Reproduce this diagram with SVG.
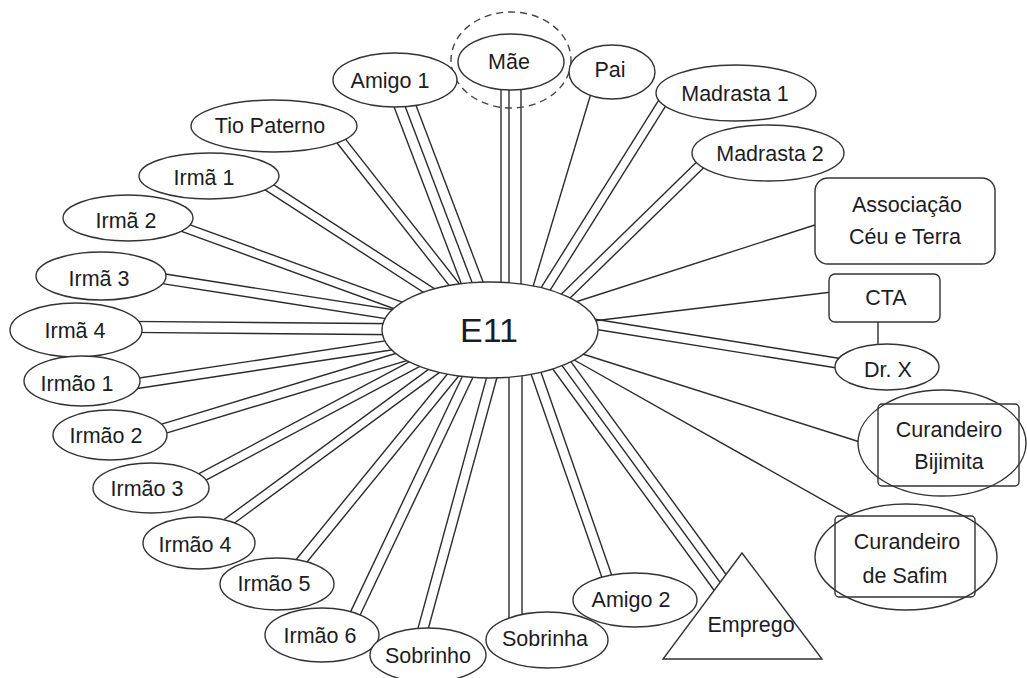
<svg xmlns="http://www.w3.org/2000/svg" width="1027" height="678" viewBox="0 0 1027 678">
<style>
.c line{stroke:#2b2b2b;stroke-width:1.4;fill:none}
.n ellipse,.n rect,.n polygon{fill:#fff;stroke:#333;stroke-width:1.4}
.dash{fill:none !important;stroke:#444 !important;stroke-width:1.5;stroke-dasharray:7 5}
text{font-family:"Liberation Sans",Arial,sans-serif;font-size:21.5px;fill:#1c1c24;text-anchor:middle}
.big{font-size:34px}
</style>
<rect width="1027" height="678" fill="#fff"/>
<g id="connectors" class="c">
  <!-- Mãe triple -->
  <line x1="501" y1="80" x2="501" y2="300"/><line x1="509" y1="80" x2="509" y2="300"/><line x1="521" y1="80" x2="521" y2="300"/>
  <!-- Amigo 1 triple -->
  <g transform="translate(405,106) rotate(69.2)"><line x1="-15" y1="-10.5" x2="240" y2="-10.5"/><line x1="-15" y1="0" x2="240" y2="0"/><line x1="-15" y1="10.5" x2="240" y2="10.5"/></g>
  <!-- Tio Paterno -->
  <g transform="translate(342,142) rotate(51.8)"><line x1="-15" y1="-4.5" x2="239" y2="-4.5"/><line x1="-15" y1="4.5" x2="239" y2="4.5"/></g>
  <g transform="translate(272,189) rotate(32.9)"><line x1="-15" y1="-4.5" x2="260" y2="-4.5"/><line x1="-15" y1="4.5" x2="260" y2="4.5"/></g>
  <g transform="translate(191,230) rotate(20)"><line x1="-15" y1="-4.5" x2="318" y2="-4.5"/><line x1="-15" y1="4.5" x2="318" y2="4.5"/></g>
  <g transform="translate(165,279) rotate(8.9)"><line x1="-15" y1="-5" x2="329" y2="-5"/><line x1="-15" y1="5" x2="329" y2="5"/></g>
  <g transform="translate(142,327) rotate(0.5)"><line x1="-15" y1="-5.5" x2="348" y2="-5.5"/><line x1="-15" y1="5.5" x2="348" y2="5.5"/></g>
  <g transform="translate(140,383) rotate(-8.6)"><line x1="-15" y1="-5" x2="354" y2="-5"/><line x1="-15" y1="5" x2="354" y2="5"/></g>
  <g transform="translate(166,428) rotate(-16.8)"><line x1="-15" y1="-5" x2="339" y2="-5"/><line x1="-15" y1="5" x2="339" y2="5"/></g>
  <g transform="translate(204,476) rotate(-28)"><line x1="-15" y1="-4.5" x2="321" y2="-4.5"/><line x1="-15" y1="4.5" x2="321" y2="4.5"/></g>
  <g transform="translate(231,520) rotate(-36.3)"><line x1="-15" y1="-4.5" x2="321" y2="-4.5"/><line x1="-15" y1="4.5" x2="321" y2="4.5"/></g>
  <g transform="translate(303,559) rotate(-50.8)"><line x1="-15" y1="-5" x2="296" y2="-5"/><line x1="-15" y1="5" x2="296" y2="5"/></g>
  <g transform="translate(356,612) rotate(-64.6)"><line x1="-15" y1="-5" x2="312" y2="-5"/><line x1="-15" y1="5" x2="312" y2="5"/></g>
  <g transform="translate(423,629) rotate(-74.7)"><line x1="-15" y1="-5" x2="310" y2="-5"/><line x1="-15" y1="5" x2="310" y2="5"/></g>
  <!-- Sobrinha -->
  <line x1="509" y1="650" x2="509" y2="340"/><line x1="522" y1="650" x2="522" y2="340"/>
  <!-- Amigo 2 -->
  <g transform="translate(606,574) rotate(-109.2)"><line x1="-15" y1="-5" x2="258" y2="-5"/><line x1="-15" y1="5" x2="258" y2="5"/></g>
  <!-- Emprego triple -->
  <g transform="translate(722,585) rotate(-126.1)"><line x1="-15" y1="-9.5" x2="316" y2="-9.5"/><line x1="-15" y1="0" x2="316" y2="0"/><line x1="-15" y1="9.5" x2="316" y2="9.5"/></g>
  <!-- singles right -->
  <line x1="853" y1="517" x2="560" y2="352"/>
  <line x1="860" y1="442" x2="570" y2="350"/>
  <g transform="translate(837,363) rotate(189.1)"><line x1="-15" y1="-5" x2="260" y2="-5"/><line x1="-15" y1="5" x2="260" y2="5"/></g>
  <line x1="832" y1="292" x2="560" y2="325"/>
  <line x1="818" y1="224" x2="560" y2="307"/>
  <line x1="878" y1="322" x2="878" y2="346"/>
  <g transform="translate(699,166) rotate(135.7)"><line x1="-15" y1="-4.5" x2="235" y2="-4.5"/><line x1="-15" y1="4.5" x2="235" y2="4.5"/></g>
  <g transform="translate(661,105) rotate(122.1)"><line x1="-15" y1="-4.5" x2="266" y2="-4.5"/><line x1="-15" y1="4.5" x2="266" y2="4.5"/></g>
  <line x1="592" y1="90" x2="520" y2="330"/>
</g>
<g id="E11" class="n"><ellipse cx="490" cy="330" rx="108" ry="48"/><text class="big" x="489" y="342">E11</text></g>
<g id="mae" class="n"><ellipse class="dash" cx="511" cy="60" rx="60" ry="48"/><ellipse cx="511" cy="62" rx="53" ry="28"/><text x="509" y="69">Mãe</text></g>
<g id="pai" class="n"><ellipse cx="612" cy="72" rx="43" ry="27"/><text x="610" y="77">Pai</text></g>
<g id="amigo1" class="n"><ellipse cx="395" cy="80" rx="62" ry="27"/><text x="390" y="88">Amigo 1</text></g>
<g id="madrasta1" class="n"><ellipse cx="736" cy="93" rx="80" ry="28"/><text x="735" y="101">Madrasta 1</text></g>
<g id="madrasta2" class="n"><ellipse cx="768" cy="153" rx="76" ry="28"/><text x="770" y="161">Madrasta 2</text></g>
<g id="tio" class="n"><ellipse cx="274" cy="126" rx="83" ry="26"/><text x="270" y="133">Tio Paterno</text></g>
<g id="irma1" class="n"><ellipse cx="209" cy="176" rx="70" ry="23"/><text x="204" y="185">Irmã 1</text></g>
<g id="irma2" class="n"><ellipse cx="128" cy="218" rx="65" ry="23"/><text x="126" y="228">Irmã 2</text></g>
<g id="irma3" class="n"><ellipse cx="101" cy="276" rx="65" ry="24"/><text x="99" y="286">Irmã 3</text></g>
<g id="irma4" class="n"><ellipse cx="76" cy="330" rx="66" ry="27"/><text x="75" y="338">Irmã 4</text></g>
<g id="irmao1" class="n"><ellipse cx="82" cy="381" rx="58" ry="25"/><text x="77" y="391">Irmão 1</text></g>
<g id="irmao2" class="n"><ellipse cx="110" cy="435" rx="57" ry="25"/><text x="106" y="443">Irmão 2</text></g>
<g id="irmao3" class="n"><ellipse cx="151" cy="488" rx="58" ry="25"/><text x="147" y="496">Irmão 3</text></g>
<g id="irmao4" class="n"><ellipse cx="199" cy="543" rx="56" ry="26"/><text x="195" y="552">Irmão 4</text></g>
<g id="irmao5" class="n"><ellipse cx="277" cy="584" rx="57" ry="26"/><text x="274" y="591">Irmão 5</text></g>
<g id="irmao6" class="n"><ellipse cx="322" cy="635" rx="57" ry="27"/><text x="320" y="643">Irmão 6</text></g>
<g id="sobrinho" class="n"><ellipse cx="428" cy="655" rx="58" ry="27"/><text x="428" y="663">Sobrinho</text></g>
<g id="amigo2" class="n"><ellipse cx="635" cy="600" rx="62" ry="27"/><text x="631" y="607">Amigo 2</text></g>
<g id="sobrinha" class="n"><ellipse cx="547" cy="640" rx="61" ry="28"/><text x="545" y="646">Sobrinha</text></g>
<g id="emprego" class="n"><polygon points="742,553 663,659 822,659"/><text x="751" y="632">Emprego</text></g>
<g id="associacao" class="n"><rect x="815" y="178" width="180" height="86" rx="13"/><text x="907" y="212">Associação</text><text x="905" y="244">Céu e Terra</text></g>
<g id="cta" class="n"><rect x="829" y="274" width="111" height="48" rx="6"/><text x="886" y="305">CTA</text></g>
<g id="drx" class="n"><ellipse cx="887" cy="367" rx="52" ry="23"/><text x="888" y="377">Dr. X</text></g>
<g id="bijimita" class="n"><ellipse cx="942" cy="443" rx="84" ry="53"/><rect x="878" y="404" width="141" height="82" rx="4" style="fill:none"/><text x="949" y="437">Curandeiro</text><text x="949" y="469">Bijimita</text></g>
<g id="safim" class="n"><ellipse cx="906" cy="557" rx="91" ry="53"/><rect x="835" y="516" width="140" height="81" rx="4" style="fill:none"/><text x="907" y="549">Curandeiro</text><text x="905" y="583">de Safim</text></g>
</svg>
